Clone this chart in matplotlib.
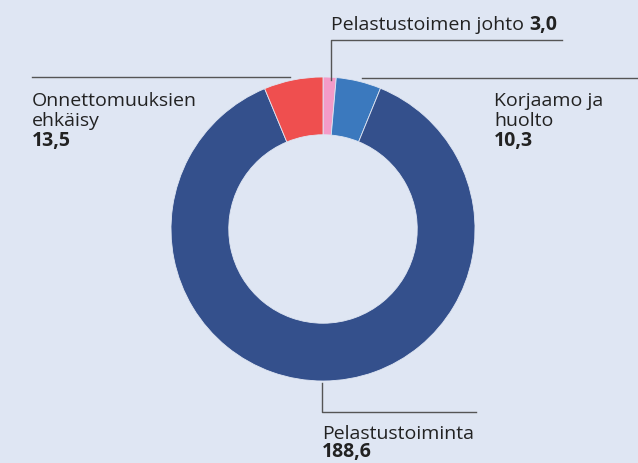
import numpy as np
import matplotlib.pyplot as plt

plt.rcParams['font.family'] = ['Open Sans', 'DejaVu Sans']

labels = ['Pelastustoimen johto', 'Korjaamo ja\nhuolto', 'Pelastustoiminta', 'Onnettomuuksien\nehkäisy']
values = [3.0, 10.3, 188.6, 13.5]
value_text = ['3,0', '10,3', '188,6', '13,5']
colors = ['#f39bc8', '#3b79be', '#34508c', '#ef4f4f']

bg = '#dfe6f3'
line_col = '#555555'
text_col = '#222222'

W, H = 638, 463
fig = plt.figure(figsize=(W / 100, H / 100), dpi=100)
fig.patch.set_facecolor(bg)
ax = fig.add_axes([0, 0, 1, 1])
ax.set_facecolor(bg)
ax.axis('off')

cx, cy, r = 323, H - 229, 152
wedges, _ = ax.pie(values, colors=colors, startangle=90, counterclock=False,
                   center=(cx, cy), radius=r,
                   wedgeprops=dict(width=r * 0.38, edgecolor=bg, linewidth=0.6))
ax.set_xlim(0, W)
ax.set_ylim(0, H)
ax.set_aspect('equal')


def y(p):
    return H - p


fs = 14
lw = 1.0


def block(x, top, lines, value, step=19.8):
    # label lines, then the value in bold
    for i, s in enumerate(lines):
        ax.text(x, y(top + i * step), s, fontsize=fs, color=text_col, va='baseline')
    ax.text(x, y(top + len(lines) * step), value, fontsize=fs, color=text_col,
            va='baseline', fontweight='bold')


# Pelastustoimen johto
ax.plot([331, 331, 562], [y(80), y(39.5), y(39.5)], color=line_col, lw=lw)
t = ax.text(331, y(30), labels[0] + ' ', fontsize=fs, color=text_col, va='baseline')
fig.canvas.draw()
bb = t.get_window_extent()
ax.text(bb.x1, y(30), value_text[0], fontsize=fs, color=text_col,
        fontweight='bold', va='baseline')

# Korjaamo ja huolto
ax.plot([362, W], [y(78.3), y(78.3)], color=line_col, lw=lw)
block(494, 106.5, labels[1].split('\n'), value_text[1])

# Onnettomuuksien ehkäisy
ax.plot([32, 290], [y(76.7), y(76.7)], color=line_col, lw=lw)
block(32, 106.5, labels[3].split('\n'), value_text[3])

# Pelastustoiminta
ax.plot([321.7, 321.7, 476], [y(383), y(411.7), y(411.7)], color=line_col, lw=lw)
block(322, 439, [labels[2]], value_text[2], step=18.5)

fig.savefig('out.png', dpi=100, facecolor=bg)
